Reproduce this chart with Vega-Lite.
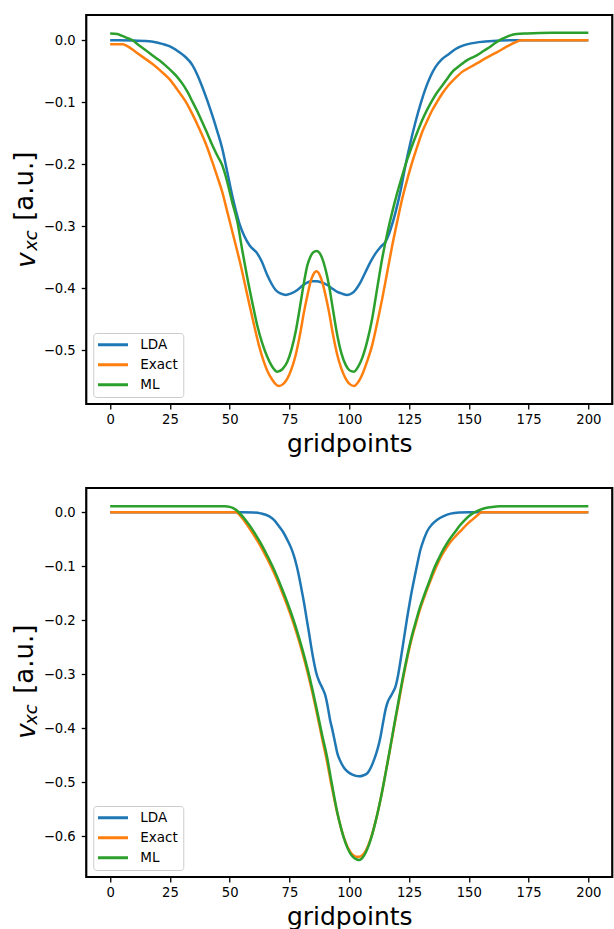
{
"$schema": "https://vega.github.io/schema/vega-lite/v6.json",
"background": "white",
"padding": {"left": 10.25, "top": 13, "right": 0, "bottom": 0},
"config": {
  "font": "DejaVu Sans",
  "view": {"stroke": "black", "strokeWidth": 2.2},
  "axis": {"domain": false, "grid": false, "tickColor": "black", "tickSize": 5, "tickWidth": 1.3, "labelColor": "black", "labelFont": "DejaVu Sans", "labelFontSize": 13.2, "titleFont": "DejaVu Sans", "titleFontWeight": "normal", "titleColor": "black", "labelFlush": false, "labelOverlap": false}
},
"datasets": {
"top": [
{"s":"LDA","g":0,"v":0},{"s":"LDA","g":10,"v":-0.0005},{"s":"LDA","g":15,"v":-0.001},{"s":"LDA","g":20,"v":-0.004},{"s":"LDA","g":25,"v":-0.01},{"s":"LDA","g":28.8,"v":-0.019},{"s":"LDA","g":31.5,"v":-0.027},{"s":"LDA","g":34.4,"v":-0.04},{"s":"LDA","g":36.5,"v":-0.056},{"s":"LDA","g":38.5,"v":-0.075},{"s":"LDA","g":40.6,"v":-0.097},{"s":"LDA","g":42.7,"v":-0.121},{"s":"LDA","g":44.8,"v":-0.147},{"s":"LDA","g":46.9,"v":-0.175},{"s":"LDA","g":49,"v":-0.213},{"s":"LDA","g":51.5,"v":-0.258},{"s":"LDA","g":54,"v":-0.295},{"s":"LDA","g":56,"v":-0.315},{"s":"LDA","g":58.5,"v":-0.332},{"s":"LDA","g":61.5,"v":-0.344},{"s":"LDA","g":63.5,"v":-0.358},{"s":"LDA","g":65.7,"v":-0.379},{"s":"LDA","g":67.5,"v":-0.393},{"s":"LDA","g":69.2,"v":-0.403},{"s":"LDA","g":71.5,"v":-0.409},{"s":"LDA","g":73.4,"v":-0.411},{"s":"LDA","g":75.5,"v":-0.409},{"s":"LDA","g":78.3,"v":-0.403},{"s":"LDA","g":80.5,"v":-0.396},{"s":"LDA","g":82.4,"v":-0.391},{"s":"LDA","g":84.3,"v":-0.389},{"s":"LDA","g":86.3,"v":-0.389},{"s":"LDA","g":88.5,"v":-0.391},{"s":"LDA","g":90.8,"v":-0.395},{"s":"LDA","g":93,"v":-0.401},{"s":"LDA","g":95,"v":-0.406},{"s":"LDA","g":97,"v":-0.409},{"s":"LDA","g":99.2,"v":-0.411},{"s":"LDA","g":101.3,"v":-0.408},{"s":"LDA","g":102.6,"v":-0.403},{"s":"LDA","g":104.5,"v":-0.392},{"s":"LDA","g":106.8,"v":-0.374},{"s":"LDA","g":109,"v":-0.357},{"s":"LDA","g":111,"v":-0.344},{"s":"LDA","g":113,"v":-0.334},{"s":"LDA","g":115.2,"v":-0.325},{"s":"LDA","g":117.3,"v":-0.305},{"s":"LDA","g":119.4,"v":-0.277},{"s":"LDA","g":121.5,"v":-0.242},{"s":"LDA","g":123.5,"v":-0.202},{"s":"LDA","g":125.6,"v":-0.165},{"s":"LDA","g":127.7,"v":-0.132},{"s":"LDA","g":129.8,"v":-0.103},{"s":"LDA","g":131.9,"v":-0.078},{"s":"LDA","g":134,"v":-0.058},{"s":"LDA","g":136.1,"v":-0.043},{"s":"LDA","g":138.9,"v":-0.03},{"s":"LDA","g":141.7,"v":-0.022},{"s":"LDA","g":144.5,"v":-0.014},{"s":"LDA","g":147.2,"v":-0.009},{"s":"LDA","g":151,"v":-0.005},{"s":"LDA","g":154.2,"v":-0.003},{"s":"LDA","g":160,"v":-0.001},{"s":"LDA","g":170,"v":0},{"s":"LDA","g":200,"v":0},
{"s":"Exact","g":0,"v":-0.0065},{"s":"Exact","g":5,"v":-0.0065},{"s":"Exact","g":7,"v":-0.009},{"s":"Exact","g":10.7,"v":-0.019},{"s":"Exact","g":14,"v":-0.028},{"s":"Exact","g":17.6,"v":-0.038},{"s":"Exact","g":21,"v":-0.049},{"s":"Exact","g":24.6,"v":-0.062},{"s":"Exact","g":28,"v":-0.079},{"s":"Exact","g":31.6,"v":-0.099},{"s":"Exact","g":34.5,"v":-0.12},{"s":"Exact","g":37.2,"v":-0.142},{"s":"Exact","g":40,"v":-0.167},{"s":"Exact","g":42.7,"v":-0.196},{"s":"Exact","g":44.8,"v":-0.22},{"s":"Exact","g":46.9,"v":-0.245},{"s":"Exact","g":49,"v":-0.277},{"s":"Exact","g":51.1,"v":-0.309},{"s":"Exact","g":52.8,"v":-0.335},{"s":"Exact","g":54.6,"v":-0.363},{"s":"Exact","g":57.4,"v":-0.412},{"s":"Exact","g":60.2,"v":-0.46},{"s":"Exact","g":62.2,"v":-0.492},{"s":"Exact","g":64.3,"v":-0.519},{"s":"Exact","g":66,"v":-0.536},{"s":"Exact","g":67.8,"v":-0.548},{"s":"Exact","g":69.2,"v":-0.555},{"s":"Exact","g":70.6,"v":-0.558},{"s":"Exact","g":72.3,"v":-0.555},{"s":"Exact","g":74.1,"v":-0.546},{"s":"Exact","g":75.9,"v":-0.53},{"s":"Exact","g":77.6,"v":-0.508},{"s":"Exact","g":79.4,"v":-0.475},{"s":"Exact","g":81.1,"v":-0.438},{"s":"Exact","g":82.5,"v":-0.412},{"s":"Exact","g":83.8,"v":-0.39},{"s":"Exact","g":85,"v":-0.378},{"s":"Exact","g":86.3,"v":-0.373},{"s":"Exact","g":87.5,"v":-0.378},{"s":"Exact","g":88.7,"v":-0.39},{"s":"Exact","g":90.1,"v":-0.412},{"s":"Exact","g":91.5,"v":-0.438},{"s":"Exact","g":93.2,"v":-0.475},{"s":"Exact","g":95,"v":-0.508},{"s":"Exact","g":96.7,"v":-0.53},{"s":"Exact","g":98.5,"v":-0.546},{"s":"Exact","g":100.2,"v":-0.555},{"s":"Exact","g":102,"v":-0.558},{"s":"Exact","g":103.7,"v":-0.552},{"s":"Exact","g":105.4,"v":-0.54},{"s":"Exact","g":107.5,"v":-0.518},{"s":"Exact","g":109.6,"v":-0.492},{"s":"Exact","g":111.7,"v":-0.456},{"s":"Exact","g":113.8,"v":-0.417},{"s":"Exact","g":116,"v":-0.372},{"s":"Exact","g":118,"v":-0.331},{"s":"Exact","g":120.1,"v":-0.292},{"s":"Exact","g":122.2,"v":-0.255},{"s":"Exact","g":124.3,"v":-0.224},{"s":"Exact","g":126.4,"v":-0.196},{"s":"Exact","g":128.5,"v":-0.171},{"s":"Exact","g":130.5,"v":-0.148},{"s":"Exact","g":132.6,"v":-0.13},{"s":"Exact","g":134.7,"v":-0.113},{"s":"Exact","g":136.8,"v":-0.099},{"s":"Exact","g":138.9,"v":-0.086},{"s":"Exact","g":141,"v":-0.075},{"s":"Exact","g":143.1,"v":-0.066},{"s":"Exact","g":145.2,"v":-0.058},{"s":"Exact","g":147.2,"v":-0.051},{"s":"Exact","g":150.3,"v":-0.044},{"s":"Exact","g":153.5,"v":-0.037},{"s":"Exact","g":157.5,"v":-0.028},{"s":"Exact","g":161.9,"v":-0.019},{"s":"Exact","g":166,"v":-0.01},{"s":"Exact","g":169,"v":-0.004},{"s":"Exact","g":172,"v":0},{"s":"Exact","g":200,"v":0},
{"s":"ML","g":0,"v":0.011},{"s":"ML","g":3,"v":0.01},{"s":"ML","g":5.1,"v":0.007},{"s":"ML","g":7,"v":0.004},{"s":"ML","g":9.3,"v":0},{"s":"ML","g":12,"v":-0.008},{"s":"ML","g":14.9,"v":-0.016},{"s":"ML","g":17.6,"v":-0.024},{"s":"ML","g":20.4,"v":-0.032},{"s":"ML","g":23.2,"v":-0.041},{"s":"ML","g":26,"v":-0.051},{"s":"ML","g":28,"v":-0.059},{"s":"ML","g":30.2,"v":-0.07},{"s":"ML","g":32.3,"v":-0.083},{"s":"ML","g":34.4,"v":-0.099},{"s":"ML","g":36.5,"v":-0.115},{"s":"ML","g":38.5,"v":-0.132},{"s":"ML","g":40.6,"v":-0.15},{"s":"ML","g":42.7,"v":-0.169},{"s":"ML","g":44.8,"v":-0.186},{"s":"ML","g":46.9,"v":-0.202},{"s":"ML","g":49,"v":-0.229},{"s":"ML","g":51.1,"v":-0.262},{"s":"ML","g":53.2,"v":-0.293},{"s":"ML","g":55.3,"v":-0.34},{"s":"ML","g":57.4,"v":-0.384},{"s":"ML","g":59.5,"v":-0.424},{"s":"ML","g":61.5,"v":-0.46},{"s":"ML","g":63.6,"v":-0.489},{"s":"ML","g":65.7,"v":-0.511},{"s":"ML","g":67.8,"v":-0.527},{"s":"ML","g":69.9,"v":-0.535},{"s":"ML","g":72,"v":-0.531},{"s":"ML","g":74.1,"v":-0.519},{"s":"ML","g":75.9,"v":-0.498},{"s":"ML","g":77.6,"v":-0.47},{"s":"ML","g":79.4,"v":-0.43},{"s":"ML","g":81.1,"v":-0.39},{"s":"ML","g":82.5,"v":-0.363},{"s":"ML","g":83.8,"v":-0.349},{"s":"ML","g":85,"v":-0.342},{"s":"ML","g":86.3,"v":-0.34},{"s":"ML","g":87.5,"v":-0.343},{"s":"ML","g":88.7,"v":-0.352},{"s":"ML","g":90.1,"v":-0.37},{"s":"ML","g":91.5,"v":-0.395},{"s":"ML","g":93.2,"v":-0.435},{"s":"ML","g":95,"v":-0.476},{"s":"ML","g":96.7,"v":-0.505},{"s":"ML","g":98.5,"v":-0.524},{"s":"ML","g":100.2,"v":-0.533},{"s":"ML","g":102,"v":-0.535},{"s":"ML","g":103.7,"v":-0.527},{"s":"ML","g":105.4,"v":-0.513},{"s":"ML","g":107.5,"v":-0.486},{"s":"ML","g":109.6,"v":-0.449},{"s":"ML","g":111.7,"v":-0.4},{"s":"ML","g":113.8,"v":-0.352},{"s":"ML","g":116,"v":-0.31},{"s":"ML","g":118,"v":-0.277},{"s":"ML","g":120.1,"v":-0.246},{"s":"ML","g":122.2,"v":-0.218},{"s":"ML","g":124.3,"v":-0.192},{"s":"ML","g":126.4,"v":-0.169},{"s":"ML","g":128.5,"v":-0.148},{"s":"ML","g":130.5,"v":-0.129},{"s":"ML","g":132.6,"v":-0.112},{"s":"ML","g":134.7,"v":-0.097},{"s":"ML","g":136.8,"v":-0.084},{"s":"ML","g":138.9,"v":-0.073},{"s":"ML","g":141,"v":-0.062},{"s":"ML","g":143.1,"v":-0.051},{"s":"ML","g":145.2,"v":-0.044},{"s":"ML","g":147.2,"v":-0.038},{"s":"ML","g":149.3,"v":-0.032},{"s":"ML","g":151.4,"v":-0.028},{"s":"ML","g":153.5,"v":-0.024},{"s":"ML","g":156.3,"v":-0.017},{"s":"ML","g":159.1,"v":-0.01},{"s":"ML","g":161.2,"v":-0.004},{"s":"ML","g":163.3,"v":0.001},{"s":"ML","g":165.5,"v":0.005},{"s":"ML","g":167.4,"v":0.008},{"s":"ML","g":170,"v":0.01},{"s":"ML","g":174.4,"v":0.011},{"s":"ML","g":185,"v":0.012},{"s":"ML","g":200,"v":0.012}
],
"bottom": [
{"s":"LDA","g":0,"v":0},{"s":"LDA","g":55,"v":0},{"s":"LDA","g":60,"v":-0.0005},{"s":"LDA","g":63,"v":-0.002},{"s":"LDA","g":66.4,"v":-0.007},{"s":"LDA","g":68.5,"v":-0.014},{"s":"LDA","g":70.6,"v":-0.026},{"s":"LDA","g":72.4,"v":-0.037},{"s":"LDA","g":74.1,"v":-0.051},{"s":"LDA","g":75.5,"v":-0.064},{"s":"LDA","g":76.9,"v":-0.081},{"s":"LDA","g":78,"v":-0.099},{"s":"LDA","g":79,"v":-0.119},{"s":"LDA","g":80,"v":-0.142},{"s":"LDA","g":81.1,"v":-0.168},{"s":"LDA","g":82.1,"v":-0.195},{"s":"LDA","g":83.2,"v":-0.224},{"s":"LDA","g":84.2,"v":-0.252},{"s":"LDA","g":85.3,"v":-0.279},{"s":"LDA","g":86.3,"v":-0.299},{"s":"LDA","g":87.4,"v":-0.313},{"s":"LDA","g":88.8,"v":-0.326},{"s":"LDA","g":90.1,"v":-0.341},{"s":"LDA","g":91,"v":-0.36},{"s":"LDA","g":92,"v":-0.385},{"s":"LDA","g":92.9,"v":-0.402},{"s":"LDA","g":94,"v":-0.425},{"s":"LDA","g":95,"v":-0.446},{"s":"LDA","g":96.4,"v":-0.462},{"s":"LDA","g":97.8,"v":-0.473},{"s":"LDA","g":99.5,"v":-0.481},{"s":"LDA","g":101.3,"v":-0.486},{"s":"LDA","g":104.1,"v":-0.489},{"s":"LDA","g":106,"v":-0.487},{"s":"LDA","g":107.6,"v":-0.483},{"s":"LDA","g":109,"v":-0.473},{"s":"LDA","g":110.4,"v":-0.458},{"s":"LDA","g":111.8,"v":-0.439},{"s":"LDA","g":113.1,"v":-0.415},{"s":"LDA","g":114.2,"v":-0.388},{"s":"LDA","g":115.2,"v":-0.365},{"s":"LDA","g":116.2,"v":-0.35},{"s":"LDA","g":117.3,"v":-0.341},{"s":"LDA","g":118.4,"v":-0.332},{"s":"LDA","g":119.4,"v":-0.322},{"s":"LDA","g":120.5,"v":-0.3},{"s":"LDA","g":121.5,"v":-0.273},{"s":"LDA","g":122.9,"v":-0.233},{"s":"LDA","g":124.3,"v":-0.193},{"s":"LDA","g":125.7,"v":-0.157},{"s":"LDA","g":127.1,"v":-0.125},{"s":"LDA","g":128.5,"v":-0.095},{"s":"LDA","g":129.8,"v":-0.069},{"s":"LDA","g":131.2,"v":-0.05},{"s":"LDA","g":132.6,"v":-0.035},{"s":"LDA","g":134.7,"v":-0.022},{"s":"LDA","g":136.8,"v":-0.0136},{"s":"LDA","g":139.5,"v":-0.007},{"s":"LDA","g":142.4,"v":-0.0025},{"s":"LDA","g":146,"v":-0.0005},{"s":"LDA","g":150,"v":0},{"s":"LDA","g":200,"v":0},
{"s":"Exact","g":0,"v":0},{"s":"Exact","g":52.5,"v":0},{"s":"Exact","g":53.5,"v":-0.002},{"s":"Exact","g":55.3,"v":-0.011},{"s":"Exact","g":57.4,"v":-0.024},{"s":"Exact","g":59.5,"v":-0.038},{"s":"Exact","g":61.6,"v":-0.053},{"s":"Exact","g":63.7,"v":-0.069},{"s":"Exact","g":65.8,"v":-0.087},{"s":"Exact","g":67.9,"v":-0.106},{"s":"Exact","g":70,"v":-0.127},{"s":"Exact","g":72,"v":-0.149},{"s":"Exact","g":74.1,"v":-0.173},{"s":"Exact","g":76.2,"v":-0.199},{"s":"Exact","g":78.3,"v":-0.228},{"s":"Exact","g":80.4,"v":-0.26},{"s":"Exact","g":82.5,"v":-0.295},{"s":"Exact","g":84.6,"v":-0.334},{"s":"Exact","g":86.7,"v":-0.377},{"s":"Exact","g":88.8,"v":-0.422},{"s":"Exact","g":90.8,"v":-0.464},{"s":"Exact","g":92.2,"v":-0.497},{"s":"Exact","g":93.6,"v":-0.528},{"s":"Exact","g":95,"v":-0.557},{"s":"Exact","g":96.4,"v":-0.582},{"s":"Exact","g":97.8,"v":-0.603},{"s":"Exact","g":99.2,"v":-0.619},{"s":"Exact","g":100.6,"v":-0.63},{"s":"Exact","g":102,"v":-0.636},{"s":"Exact","g":103.2,"v":-0.638},{"s":"Exact","g":104.1,"v":-0.638},{"s":"Exact","g":105.5,"v":-0.635},{"s":"Exact","g":106.9,"v":-0.627},{"s":"Exact","g":108.3,"v":-0.613},{"s":"Exact","g":109.7,"v":-0.594},{"s":"Exact","g":111.1,"v":-0.571},{"s":"Exact","g":112.5,"v":-0.544},{"s":"Exact","g":113.9,"v":-0.514},{"s":"Exact","g":115.2,"v":-0.483},{"s":"Exact","g":116.6,"v":-0.45},{"s":"Exact","g":118,"v":-0.416},{"s":"Exact","g":119.4,"v":-0.382},{"s":"Exact","g":120.8,"v":-0.349},{"s":"Exact","g":122.5,"v":-0.308},{"s":"Exact","g":124.3,"v":-0.269},{"s":"Exact","g":126,"v":-0.236},{"s":"Exact","g":127.8,"v":-0.207},{"s":"Exact","g":129.5,"v":-0.181},{"s":"Exact","g":131.3,"v":-0.158},{"s":"Exact","g":133.4,"v":-0.133},{"s":"Exact","g":135.5,"v":-0.11},{"s":"Exact","g":137.5,"v":-0.09},{"s":"Exact","g":139.6,"v":-0.073},{"s":"Exact","g":142,"v":-0.057},{"s":"Exact","g":144.5,"v":-0.044},{"s":"Exact","g":146,"v":-0.037},{"s":"Exact","g":148,"v":-0.028},{"s":"Exact","g":150,"v":-0.019},{"s":"Exact","g":151.5,"v":-0.0136},{"s":"Exact","g":153.5,"v":-0.006},{"s":"Exact","g":155.4,"v":0},{"s":"Exact","g":200,"v":0},
{"s":"ML","g":0,"v":0.011},{"s":"ML","g":48,"v":0.011},{"s":"ML","g":50,"v":0.01},{"s":"ML","g":52.5,"v":0.005},{"s":"ML","g":55.3,"v":-0.007},{"s":"ML","g":57.4,"v":-0.019},{"s":"ML","g":59.5,"v":-0.032},{"s":"ML","g":61.6,"v":-0.047},{"s":"ML","g":63.7,"v":-0.063},{"s":"ML","g":65.8,"v":-0.081},{"s":"ML","g":67.9,"v":-0.1},{"s":"ML","g":70,"v":-0.121},{"s":"ML","g":72,"v":-0.143},{"s":"ML","g":74.1,"v":-0.167},{"s":"ML","g":76.2,"v":-0.193},{"s":"ML","g":78.3,"v":-0.222},{"s":"ML","g":80.4,"v":-0.254},{"s":"ML","g":82.5,"v":-0.289},{"s":"ML","g":84.6,"v":-0.328},{"s":"ML","g":86.7,"v":-0.371},{"s":"ML","g":88.8,"v":-0.415},{"s":"ML","g":90.8,"v":-0.455},{"s":"ML","g":92.2,"v":-0.49},{"s":"ML","g":93.6,"v":-0.524},{"s":"ML","g":95,"v":-0.556},{"s":"ML","g":96.4,"v":-0.582},{"s":"ML","g":97.8,"v":-0.604},{"s":"ML","g":99.2,"v":-0.621},{"s":"ML","g":100.6,"v":-0.633},{"s":"ML","g":102,"v":-0.64},{"s":"ML","g":103.2,"v":-0.643},{"s":"ML","g":104.1,"v":-0.644},{"s":"ML","g":105.5,"v":-0.64},{"s":"ML","g":106.9,"v":-0.63},{"s":"ML","g":108.3,"v":-0.615},{"s":"ML","g":109.7,"v":-0.595},{"s":"ML","g":111.1,"v":-0.571},{"s":"ML","g":112.5,"v":-0.544},{"s":"ML","g":113.9,"v":-0.514},{"s":"ML","g":115.2,"v":-0.483},{"s":"ML","g":116.6,"v":-0.449},{"s":"ML","g":118,"v":-0.414},{"s":"ML","g":119.4,"v":-0.379},{"s":"ML","g":120.8,"v":-0.345},{"s":"ML","g":122.5,"v":-0.304},{"s":"ML","g":124.3,"v":-0.265},{"s":"ML","g":126,"v":-0.232},{"s":"ML","g":127.8,"v":-0.203},{"s":"ML","g":129.5,"v":-0.177},{"s":"ML","g":131.3,"v":-0.154},{"s":"ML","g":133.4,"v":-0.129},{"s":"ML","g":135.5,"v":-0.104},{"s":"ML","g":137.5,"v":-0.085},{"s":"ML","g":139.6,"v":-0.067},{"s":"ML","g":142,"v":-0.05},{"s":"ML","g":144.5,"v":-0.035},{"s":"ML","g":146,"v":-0.026},{"s":"ML","g":148,"v":-0.016},{"s":"ML","g":150.1,"v":-0.007},{"s":"ML","g":152,"v":-0.001},{"s":"ML","g":154.3,"v":0.004},{"s":"ML","g":157,"v":0.008},{"s":"ML","g":159.8,"v":0.01},{"s":"ML","g":163,"v":0.011},{"s":"ML","g":200,"v":0.011}
]
},
"spacing": 28,
"resolve": {"scale": {"x": "independent", "y": "independent", "color": "shared"}, "legend": {"color": "independent"}},
"vconcat": [
{
  "width": 526, "height": 389,
  "resolve": {"axis": {"y": "independent"}},
  "layer": [
    {
      "data": {"name": "top"},
      "mark": {"type": "line", "strokeWidth": 2.5, "interpolate": "monotone"},
      "encoding": {
        "x": {"field": "g", "type": "quantitative", "scale": {"domain": [-10, 210], "nice": false, "zero": false}, "axis": {"values": [0,25,50,75,100,125,150,175,200], "title": "gridpoints", "titleFontSize": 25, "labelPadding": 4.5, "titlePadding": 5.5}},
        "y": {"field": "v", "type": "quantitative", "scale": {"domain": [-0.5871, 0.0408], "nice": false, "zero": false}, "axis": {"orient": "left", "values": [0,-0.1,-0.2,-0.3,-0.4,-0.5], "format": ".1f", "labelPadding": 6, "title": "[a.u.]", "titleFontSize": 26, "titleAngle": -90, "titleAlign": "left", "titleBaseline": "alphabetic", "titleX": -53.7, "titleY": 205.3}},
        "color": {"field": "s", "type": "nominal", "sort": ["LDA","Exact","ML"], "scale": {"domain": ["LDA","Exact","ML"], "range": ["#1f77b4","#ff7f0e","#2ca02c"]},
          "legend": {"title": null, "orient": "bottom-left", "offset": 7, "padding": 5, "strokeColor": "#cccccc", "fillColor": "rgba(255,255,255,0.8)", "cornerRadius": 3, "symbolType": "M-3,0H3", "symbolSize": 100, "symbolStrokeWidth": 3, "symbolOffset": 8, "labelOffset": 20.5, "labelFontSize": 13.5, "labelFont": "DejaVu Sans", "labelColor": "black", "rowPadding": 5}}
      }
    },
    {
      "data": {"values": [{}]},
      "mark": {"type": "rule", "opacity": 0},
      "encoding": {"y": {"datum": 0, "type": "quantitative", "axis": {"orient": "left", "labels": false, "ticks": false, "domain": false, "title": "v", "titleFontSize": 26, "titleFontStyle": "italic", "titleAngle": -90, "titleAlign": "left", "titleBaseline": "alphabetic", "titleX": -52, "titleY": 252.3}}}
    },
    {
      "data": {"values": [{}]},
      "mark": {"type": "rule", "opacity": 0},
      "encoding": {"y": {"datum": 0, "type": "quantitative", "axis": {"orient": "left", "labels": false, "ticks": false, "domain": false, "title": "xc", "titleFontSize": 18, "titleFontStyle": "italic", "titleAngle": -90, "titleAlign": "left", "titleBaseline": "alphabetic", "titleX": -49.3, "titleY": 235.3}}}
    }
  ]
},
{
  "width": 526, "height": 389,
  "resolve": {"axis": {"y": "independent"}},
  "layer": [
    {
      "data": {"name": "bottom"},
      "mark": {"type": "line", "strokeWidth": 2.5, "interpolate": "monotone"},
      "encoding": {
        "x": {"field": "g", "type": "quantitative", "scale": {"domain": [-10, 210], "nice": false, "zero": false}, "axis": {"values": [0,25,50,75,100,125,150,175,200], "title": "gridpoints", "titleFontSize": 25, "labelPadding": 4.5, "titlePadding": 5.5}},
        "y": {"field": "v", "type": "quantitative", "scale": {"domain": [-0.6754, 0.045], "nice": false, "zero": false}, "axis": {"orient": "left", "values": [0,-0.1,-0.2,-0.3,-0.4,-0.5,-0.6], "format": ".1f", "labelPadding": 6, "title": "[a.u.]", "titleFontSize": 26, "titleAngle": -90, "titleAlign": "left", "titleBaseline": "alphabetic", "titleX": -53.7, "titleY": 205.3}},
        "color": {"field": "s", "type": "nominal", "sort": ["LDA","Exact","ML"], "scale": {"domain": ["LDA","Exact","ML"], "range": ["#1f77b4","#ff7f0e","#2ca02c"]},
          "legend": {"title": null, "orient": "bottom-left", "offset": 7, "padding": 5, "strokeColor": "#cccccc", "fillColor": "rgba(255,255,255,0.8)", "cornerRadius": 3, "symbolType": "M-3,0H3", "symbolSize": 100, "symbolStrokeWidth": 3, "symbolOffset": 8, "labelOffset": 20.5, "labelFontSize": 13.5, "labelFont": "DejaVu Sans", "labelColor": "black", "rowPadding": 5}}
      }
    },
    {
      "data": {"values": [{}]},
      "mark": {"type": "rule", "opacity": 0},
      "encoding": {"y": {"datum": 0, "type": "quantitative", "axis": {"orient": "left", "labels": false, "ticks": false, "domain": false, "title": "v", "titleFontSize": 26, "titleFontStyle": "italic", "titleAngle": -90, "titleAlign": "left", "titleBaseline": "alphabetic", "titleX": -52, "titleY": 250.3}}}
    },
    {
      "data": {"values": [{}]},
      "mark": {"type": "rule", "opacity": 0},
      "encoding": {"y": {"datum": 0, "type": "quantitative", "axis": {"orient": "left", "labels": false, "ticks": false, "domain": false, "title": "xc", "titleFontSize": 18, "titleFontStyle": "italic", "titleAngle": -90, "titleAlign": "left", "titleBaseline": "alphabetic", "titleX": -49.3, "titleY": 236.3}}}
    }
  ]
}
]
}
